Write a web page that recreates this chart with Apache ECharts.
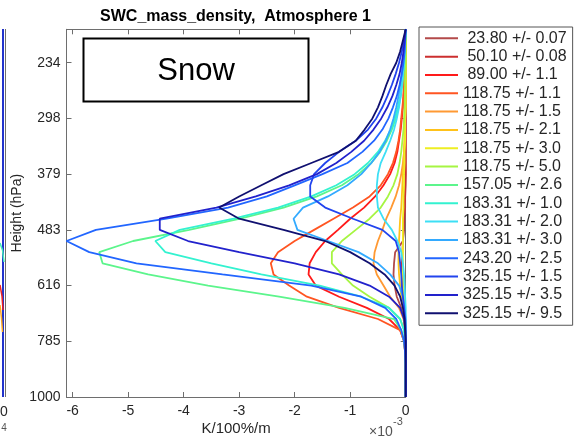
<!DOCTYPE html>
<html><head><meta charset="utf-8">
<script src="https://cdn.jsdelivr.net/npm/echarts@6/dist/echarts.min.js"></script>
<style>html,body{margin:0;padding:0;background:#fff}#c{width:581px;height:438px}</style>
</head><body><div id="c"></div>
<script>
// Height levels (km) of the profile grid, bottom to top
const heightsKm = [0,0.4,0.8,1.2,1.6,2.0,2.4,2.8,3.2,3.6,4.0,4.4,4.8,5.2,5.6,6.0,6.4,6.8,7.2,7.6,8.0,8.4,8.8,9.2,9.6,10.0,10.4,10.8,11.2,11.6,12.0,12.4,12.8,13.2];
// Pressure labels shown at heights 0,2,4,...,12 km
const yTickLabels = ['1000','785','616','483','379','298','234'];
const channelNames = [' 23.80 +/- 0.07',' 50.10 +/- 0.08',' 89.00 +/- 1.1','118.75 +/- 1.1','118.75 +/- 1.5','118.75 +/- 2.1','118.75 +/- 3.0','118.75 +/- 5.0','157.05 +/- 2.6','183.31 +/- 1.0','183.31 +/- 2.0','183.31 +/- 3.0','243.20 +/- 2.5','325.15 +/- 1.5','325.15 +/- 3.5','325.15 +/- 9.5'];
const channelColors = ['#b34a4a','#cc2f2f','#ff1a1a','#ff5522','#ff9933','#ffc21a','#eeee22','#a6f542','#5cf58c','#33f2d0','#3ddff5','#33aaff','#2266ff','#2244ee','#2222cc','#101070'];
// Jacobians, units of 1e-3 K/100%/m, one value per height level
const ch01 = [0,0,0,0,0,0,-0.01,-0.03,-0.08,-0.16,-0.2,-0.22,-0.21,-0.19,-0.05,-0.03,-0.02,-0.01,-0.01,0,0,0,0,0,0,0,0,0,0,0,0,0,0,0];
const ch02 = [0,0,0,0,0,0,0,-0.01,-0.03,-0.05,-0.06,-0.07,-0.07,-0.06,-0.05,-0.04,-0.03,-0.02,-0.01,-0.01,0,0,0,0,0,0,0,0,0,0,0,0,0,0];
const ch03 = [0,0,0,0,-0.01,-0.03,-0.1,-0.3,-0.7,-1.2,-1.62,-1.75,-1.73,-1.62,-1.45,-1.22,-1.0,-0.75,-0.55,-0.4,-0.28,-0.2,-0.15,-0.12,-0.09,-0.07,-0.05,-0.04,-0.03,-0.02,-0.01,-0.01,0,0];
const ch04 = [0,0,0,0,-0.01,-0.03,-0.1,-0.5,-1.2,-1.78,-2.1,-2.38,-2.43,-2.3,-2.0,-1.65,-1.3,-0.95,-0.65,-0.45,-0.32,-0.23,-0.17,-0.13,-0.1,-0.08,-0.06,-0.04,-0.03,-0.02,-0.01,-0.01,0,0];
const ch05 = [0,0,0,0,0,0,-0.01,-0.04,-0.12,-0.28,-0.4,-0.52,-0.58,-0.56,-0.5,-0.42,-0.35,-0.26,-0.18,-0.12,-0.08,-0.05,-0.03,-0.02,-0.01,-0.01,0,0,0,0,0,0,0,0];
const ch06 = [0,0,0,0,0,0,-0.01,-0.02,-0.05,-0.08,-0.1,-0.12,-0.13,-0.13,-0.12,-0.11,-0.1,-0.08,-0.07,-0.06,-0.05,-0.04,-0.03,-0.02,-0.02,-0.01,-0.01,-0.01,0,0,0,0,0,0];
const ch07 = [0,0,0,0,0,0,0,-0.01,-0.02,-0.03,-0.04,-0.05,-0.05,-0.05,-0.05,-0.05,-0.05,-0.04,-0.04,-0.03,-0.03,-0.02,-0.02,-0.01,-0.01,-0.01,0,0,0,0,0,0,0,0];
const ch08 = [0,0,0,0,0,-0.01,-0.03,-0.1,-0.3,-0.65,-0.95,-1.15,-1.33,-1.33,-1.15,-0.9,-0.65,-0.45,-0.32,-0.22,-0.15,-0.11,-0.08,-0.06,-0.04,-0.03,-0.02,-0.015,-0.01,-0.005,0,0,0,0];
const ch09 = [0,0,0,0,-0.01,-0.03,-0.08,-0.21,-1.1,-2.28,-3.56,-4.64,-5.46,-5.52,-4.91,-3.9,-2.98,-2.2,-1.6,-1.15,-0.85,-0.62,-0.46,-0.34,-0.25,-0.18,-0.13,-0.09,-0.06,-0.04,-0.025,-0.015,-0.005,0];
const ch10 = [0,0,0,0,0,-0.01,-0.03,-0.1,-0.3,-0.8,-1.55,-2.6,-3.5,-4.33,-4.51,-4.07,-3.1,-2.3,-1.7,-1.25,-0.92,-0.68,-0.5,-0.37,-0.27,-0.2,-0.14,-0.1,-0.07,-0.05,-0.03,-0.02,-0.01,0];
const ch11 = [0,0,0,0,0,0,0,0,0,-0.01,-0.02,-0.03,-0.05,-0.08,-0.15,-0.25,-0.4,-0.5,-0.52,-0.52,-0.5,-0.45,-0.36,-0.28,-0.21,-0.16,-0.12,-0.09,-0.07,-0.05,-0.03,-0.02,-0.01,0];
const ch12 = [0,0,0,0,0,0,0,0,-0.02,-0.05,-0.12,-0.28,-0.5,-0.85,-1.4,-1.95,-2.02,-1.85,-1.4,-1.05,-0.8,-0.62,-0.47,-0.36,-0.28,-0.22,-0.17,-0.13,-0.1,-0.07,-0.05,-0.03,-0.01,0];
const ch13 = [0,0,0,0,-0.01,-0.03,-0.08,-0.17,-0.37,-0.8,-1.7,-3.3,-4.85,-5.7,-6.11,-5.58,-4.31,-3.2,-2.5,-2.0,-1.5,-1.05,-0.78,-0.57,-0.42,-0.31,-0.23,-0.16,-0.11,-0.07,-0.04,-0.02,-0.01,0];
const ch14 = [0,0,0,0,0,0,0,-0.01,-0.03,-0.05,-0.07,-0.08,-0.1,-0.12,-0.18,-0.42,-0.95,-1.45,-1.72,-1.72,-1.65,-1.45,-1.2,-0.9,-0.68,-0.53,-0.42,-0.33,-0.25,-0.18,-0.12,-0.07,-0.03,0];
const ch15 = [0,0,0,0,0,0,-0.01,-0.03,-0.1,-0.3,-0.65,-1.2,-2.0,-3.0,-3.92,-4.43,-4.43,-3.41,-2.7,-2.1,-1.6,-1.25,-0.98,-0.75,-0.58,-0.44,-0.33,-0.24,-0.17,-0.11,-0.07,-0.04,-0.02,0];
const ch16 = [0,0,0,0,0,0,-0.01,-0.02,-0.05,-0.1,-0.2,-0.38,-0.65,-1.0,-1.45,-2.2,-3.0,-3.36,-3.0,-2.6,-2.2,-1.7,-1.2,-0.9,-0.74,-0.6,-0.5,-0.42,-0.35,-0.27,-0.17,-0.1,-0.05,0];
const channelValues = [ch01,ch02,ch03,ch04,ch05,ch06,ch07,ch08,ch09,ch10,ch11,ch12,ch13,ch14,ch15,ch16];

const FONT = "'Liberation Sans', Arial, Helvetica, sans-serif";
const AX = '#6e6e6e', TX = '#262626';
const chart = echarts.init(document.getElementById('c'), null, {renderer: 'canvas'});

const series = channelValues.map((vals, i) => ({
  type: 'line', name: channelNames[i], symbol: 'none', animation: false,
  data: heightsKm.map((h, j) => [vals[j], h]),
  lineStyle: {width: 1.8, color: channelColors[i]},
  itemStyle: {color: channelColors[i]},
  emphasis: {disabled: true}
}));

const yLabel = v => { const i = Math.round(v / 2); return Math.abs(v - 2 * i) < 1e-6 ? (yTickLabels[i] || '') : ''; };
const xLabel = v => Math.abs(v - Math.round(v)) < 1e-6 ? String(Math.round(v)) : '';
const baseX = {type: 'value', min: -6.11, max: 0, splitLine: {show: false},
  axisLine: {show: true, onZero: false, lineStyle: {color: AX, width: 1}},
  axisTick: {show: true, inside: true, length: 5, lineStyle: {color: AX}}};
const baseY = {type: 'value', min: 0, max: 13.2, interval: 2, splitLine: {show: false},
  axisLine: {show: true, onZero: false, lineStyle: {color: AX, width: 1}},
  axisTick: {show: true, inside: true, length: 5, lineStyle: {color: AX}}};

chart.setOption({
  animation: false,
  backgroundColor: '#fff',
  grid: {left: 66.5, top: 29.3, width: 339.2, height: 367.7, containLabel: false, outerBoundsMode: 'none'},
  xAxis: [
    Object.assign({}, baseX, {position: 'bottom',
      axisLabel: {formatter: xLabel, color: TX, fontSize: 14, fontFamily: FONT, margin: 7},
      name: 'K/100%/m', nameLocation: 'middle', nameGap: 24, nameMoveOverlap: false,
      nameTextStyle: {color: TX, fontSize: 15, fontFamily: FONT}}),
    Object.assign({}, baseX, {position: 'top', axisLabel: {show: false}})
  ],
  yAxis: [
    Object.assign({}, baseY, {position: 'left',
      axisLabel: {formatter: yLabel, color: TX, fontSize: 14, fontFamily: FONT, margin: 6},
      name: 'Height (hPa)', nameLocation: 'middle', nameGap: 42, nameRotate: 90, nameMoveOverlap: false,
      nameTextStyle: {color: TX, fontSize: 14, fontFamily: FONT}}),
    Object.assign({}, baseY, {position: 'right', axisLabel: {show: false}})
  ],
  legend: {
    orient: 'vertical', left: 419, top: 27, selectedMode: false,
    icon: 'rect', itemWidth: 33, itemHeight: 2, itemGap: 2.33,
    padding: [3.3, 6, 4, 6],
    borderColor: '#555', borderWidth: 1, backgroundColor: '#fff',
    textStyle: {color: TX, fontSize: 16, fontFamily: FONT},
    data: channelNames
  },
  graphic: [
    {type: 'text', style: {text: 'SWC_mass_density,  Atmosphere 1', x: 235.5, y: 16.2,
      font: 'bold 16px ' + FONT, fill: '#000', align: 'center', verticalAlign: 'middle'}},
    {type: 'rect', shape: {x: 83.5, y: 38.5, width: 225, height: 63}, style: {fill: '#fff', stroke: '#000', lineWidth: 2}, z: 10},
    {type: 'text', style: {text: 'Snow', x: 196, y: 71, font: '31px ' + FONT, fill: '#000', align: 'center', verticalAlign: 'middle'}, z: 11},
    {type: 'text', style: {text: '×10', x: 369, y: 432, font: '14px ' + FONT, fill: '#555', align: 'left', verticalAlign: 'middle'}},
    {type: 'text', style: {text: '-3', x: 393, y: 422, font: '11px ' + FONT, fill: '#555', align: 'left', verticalAlign: 'middle'}},
    {type: 'line', shape: {x1: 5.5, y1: 29, x2: 5.5, y2: 397}, style: {stroke: AX, lineWidth: 1}},
    {type: 'line', shape: {x1: 3, y1: 29, x2: 3, y2: 397}, style: {stroke: '#2233cc', lineWidth: 2}},
    {type: 'polyline', shape: {points: [[0, 243], [2.5, 250], [4, 262]]}, style: {stroke: '#44eebb', lineWidth: 1.5, fill: null}},
    {type: 'polyline', shape: {points: [[0, 285], [2, 296], [3, 310]]}, style: {stroke: '#ee2222', lineWidth: 1.5, fill: null}},
    {type: 'polyline', shape: {points: [[0, 305], [1.5, 318], [2.5, 332]]}, style: {stroke: '#ffaa22', lineWidth: 1.5, fill: null}},
    {type: 'text', style: {text: '0', x: 4, y: 412, font: '14px ' + FONT, fill: TX, align: 'center', verticalAlign: 'middle'}},
    {type: 'text', style: {text: '4', x: 4, y: 428, font: '10px ' + FONT, fill: '#555', align: 'center', verticalAlign: 'middle'}}
  ],
  series: series
});
</script></body></html>
